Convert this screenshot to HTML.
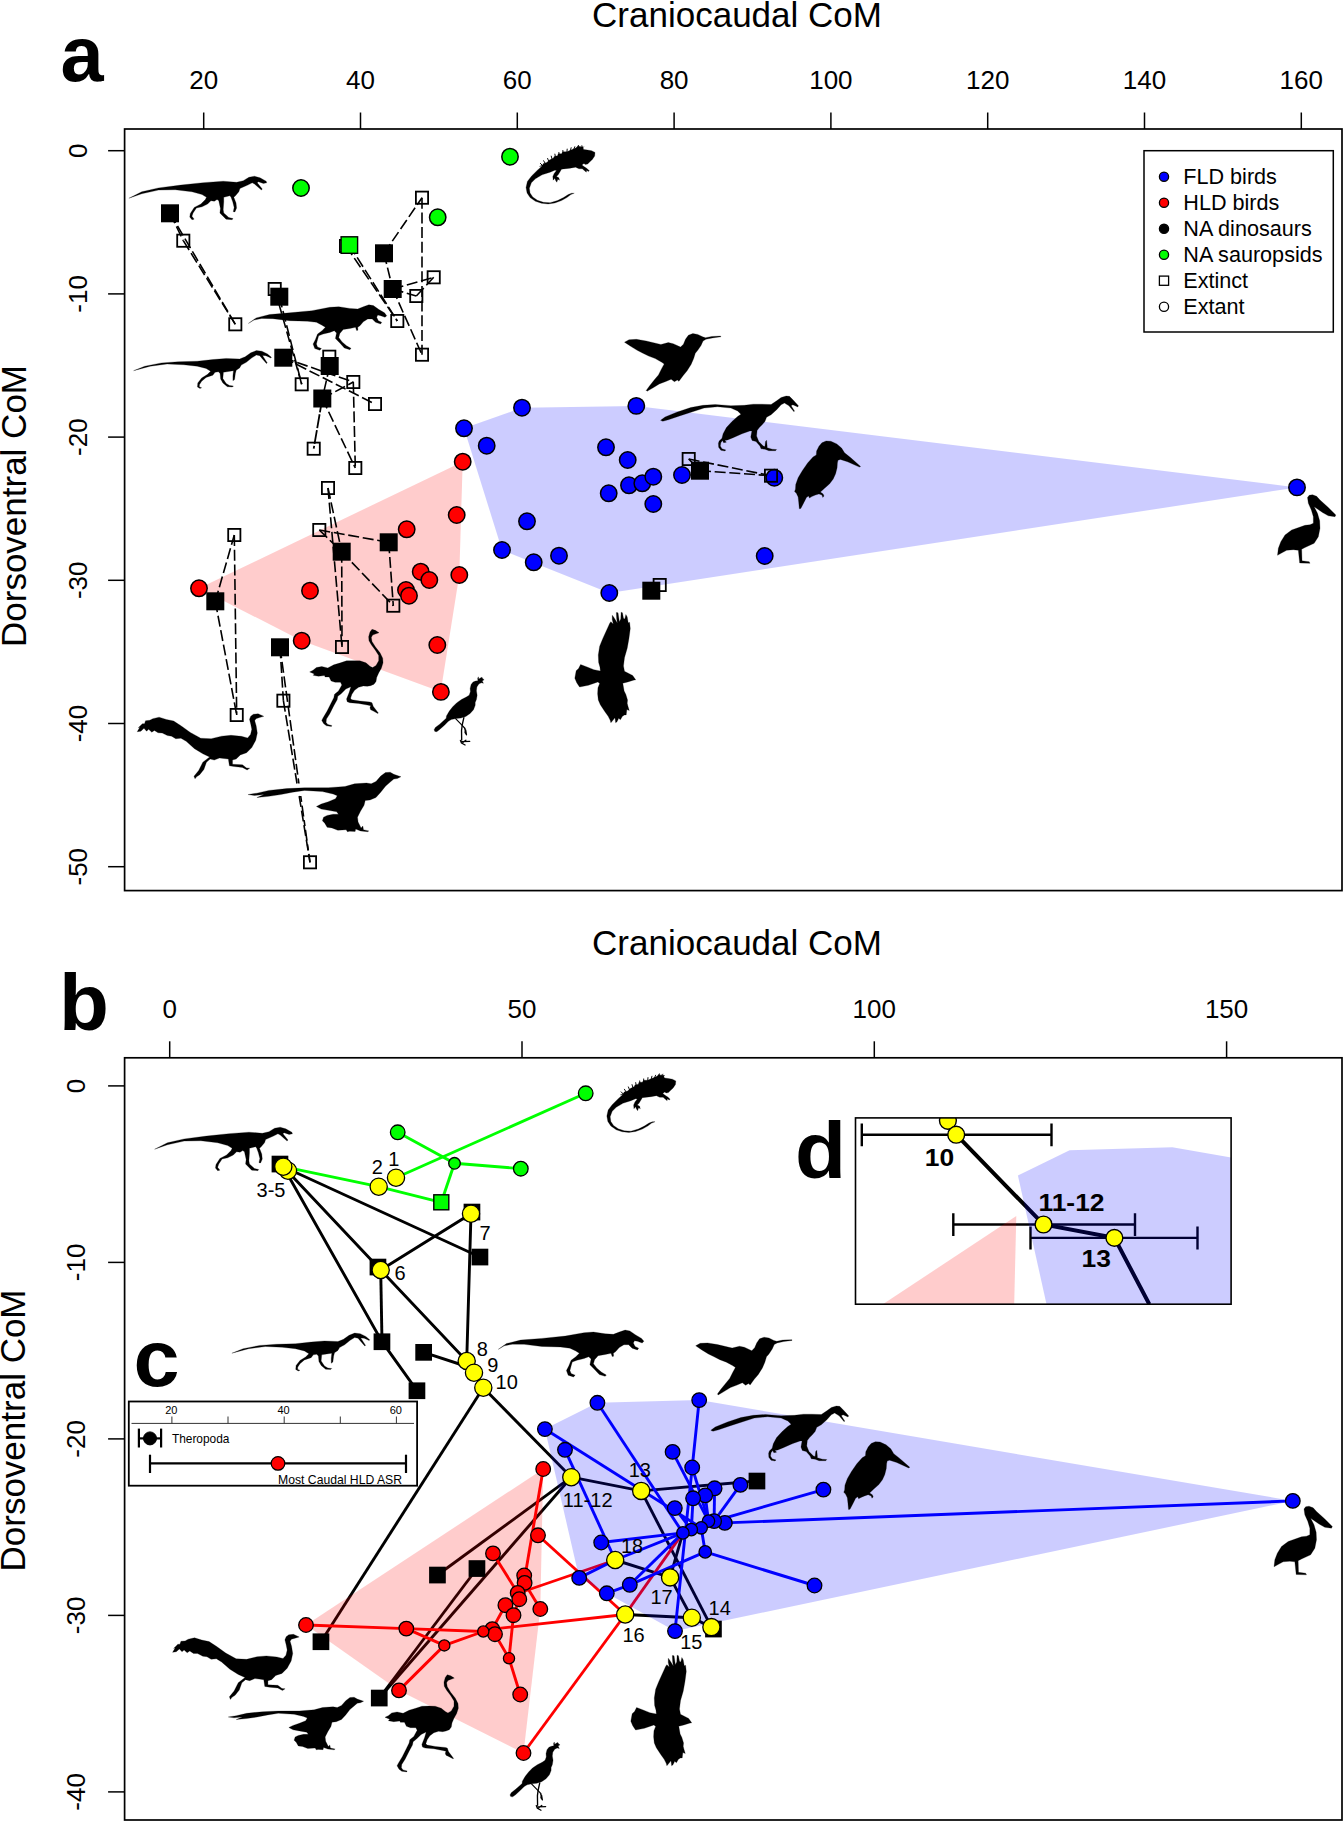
<!DOCTYPE html>
<html lang="en"><head><meta charset="utf-8"><title>Figure</title>
<style>html,body{margin:0;padding:0;background:#fff}svg{display:block}text{font-family:"Liberation Sans", Arial, sans-serif;fill:#000}</style></head><body>
<svg width="1344" height="1822" viewBox="0 0 1344 1822">
<rect width="1344" height="1822" fill="#fff"/>
<defs>
<g id="s_herrera">
<path d="M35,298 L150,240 L300,205 L500,180 L700,158 L880,145 L1000,155 L1060,140 L1110,110 L1160,100 L1210,115 L1265,145 L1270,160 L1240,165 L1195,150 L1185,160 L1230,215 L1222,225 L1160,170 L1140,160 L1100,180 L1030,210 L1020,240 L990,275 L975,290 L995,340 L1000,385 L985,420 L970,418 L978,380 L965,330 L950,290 L940,275 L885,290 L885,330 L880,400 L885,430 L930,470 L968,480 L960,490 L905,485 L850,430 L855,390 L840,320 L825,310 L800,325 L770,320 L740,350 L690,375 L640,385 L610,430 L600,460 L620,485 L600,490 L580,465 L585,435 L620,380 L680,350 L720,310 L730,290 L690,265 L600,240 L450,222 L300,225 L150,258 Z" fill="#000" stroke="#000" stroke-width="2.2" stroke-linejoin="round"/>
</g>
<g id="s_trex">
<path d="M30,255 L100,205 L220,175 L400,160 L600,140 L760,110 L840,105 L940,120 L1010,125 L1060,105 L1110,88 L1150,95 L1200,130 L1250,160 L1270,185 L1255,200 L1215,185 L1190,180 L1180,200 L1195,230 L1225,245 L1215,260 L1170,245 L1140,215 L1100,215 L1060,240 L1030,275 L1010,290 L1012,315 L1000,318 L990,290 L940,300 L880,310 L850,345 L840,380 L870,420 L910,455 L950,478 L940,490 L890,475 L850,430 L810,390 L820,340 L800,320 L760,335 L700,350 L660,365 L650,400 L640,440 L650,465 L685,480 L670,495 L625,480 L610,440 L630,400 L650,350 L690,320 L720,290 L690,270 L640,245 L560,235 L400,230 L250,212 L150,210 L80,225 Z" fill="#000" stroke="#000" stroke-width="2.2" stroke-linejoin="round"/>
</g>
<g id="s_coelo">
<path d="M50,275 L150,235 L300,205 L450,195 L620,190 L760,175 L880,165 L1000,170 L1050,150 L1100,115 L1150,95 L1200,100 L1250,125 L1285,155 L1280,162 L1235,140 L1205,138 L1225,170 L1248,205 L1240,210 L1205,170 L1180,140 L1150,135 L1110,160 L1060,200 L1015,225 L1000,250 L970,270 L962,300 L955,355 L940,365 L940,320 L945,275 L900,282 L855,290 L850,345 L880,390 L910,408 L945,412 L935,422 L890,418 L850,385 L830,350 L825,300 L810,285 L780,290 L760,315 L700,335 L660,370 L640,400 L640,420 L660,428 L645,435 L622,420 L625,385 L660,340 L710,310 L740,280 L700,255 L620,235 L500,222 L350,215 L200,235 Z" fill="#000" stroke="#000" stroke-width="2.2" stroke-linejoin="round"/>
</g>
<g id="s_iguana">
<path d="M1120,185 L1115,240 L1080,290 L1040,330 L1010,360 L975,365 L955,350 L925,375 L960,400 L1000,425 L1035,460 L1020,470 L995,450 L990,480 L960,455 L930,430 L880,430 L830,405 L750,420 L620,435 L600,470 L570,520 L545,545 L580,565 L590,600 L565,585 L550,630 L530,600 L520,570 L495,600 L490,545 L510,500 L545,455 L520,450 L450,480 L330,520 L230,580 L170,640 L140,720 L150,790 L190,850 L260,900 L350,930 L450,935 L560,905 L650,860 L720,815 L770,795 L810,795 L760,815 L700,860 L620,905 L520,940 L420,955 L320,945 L230,915 L150,860 L105,790 L90,710 L110,620 L170,540 L260,450 L330,390 L290,395 L340,370 L350,350 L400,335 L440,300 L500,270 L510,245 L560,235 L570,205 L620,205 L640,175 L700,175 L760,150 L830,120 L880,85 L900,110 L935,95 L950,140 L1010,150 L1070,160 Z" fill="#000" stroke="#000" stroke-width="3.7" stroke-linejoin="round"/>
<path d="M340,385 L300,345 M380,355 L350,305 M430,320 L410,270 M480,290 L465,235 M530,262 L520,205 M585,238 L580,180 M640,210 L640,150 M700,185 L705,130 M750,165 L765,110 M800,145 L820,95 M850,125 L875,75 M895,115 L925,80 M930,120 L950,100" fill="none" stroke="#000" stroke-width="14" stroke-linecap="butt"/>
</g>
<g id="s_hummer">
<path d="M55,210 L110,180 L200,175 L320,195 L500,238 L590,215 L650,228 L740,270 L775,235 L800,175 L835,125 L890,105 L950,115 L1010,145 L1045,155 L1120,140 L1230,135 L1232,145 L1130,158 L1050,175 L1015,195 L990,250 L950,310 L920,345 L900,410 L870,480 L820,560 L770,620 L720,688 L700,672 L665,692 L625,662 L560,690 L480,720 L400,770 L330,810 L320,800 L360,745 L420,670 L470,610 L510,530 L540,475 L510,455 L430,410 L350,380 L280,345 L210,310 L130,260 Z" fill="#000" stroke="#000" stroke-width="3.1" stroke-linejoin="round"/>
</g>
<g id="s_deino">
<path d="M50,290 L90,260 L200,215 L320,175 L430,155 L540,148 L680,158 L800,155 L880,145 L960,145 L1040,148 L1090,115 L1130,85 L1175,72 L1205,75 L1240,110 L1285,160 L1280,170 L1235,150 L1220,160 L1250,205 L1245,212 L1200,160 L1160,135 L1130,150 L1090,195 L1040,240 L1000,262 L985,300 L960,330 L935,355 L915,380 L910,430 L930,480 L970,520 L985,525 L990,480 L1000,468 L1005,520 L1005,535 L1050,548 L1090,552 L1080,562 L1020,562 L985,548 L950,545 L940,520 L905,480 L870,470 L858,440 L868,385 L850,385 L780,410 L700,445 L650,465 L625,470 L640,485 L615,490 L605,470 L590,490 L585,520 L600,545 L635,555 L625,565 L590,558 L570,530 L568,495 L575,475 L600,450 L610,410 L640,355 L690,300 L740,255 L770,235 L740,205 L680,180 L560,168 L440,180 L330,215 L220,250 L120,285 L70,298 Z" fill="#000" stroke="#000" stroke-width="2.2" stroke-linejoin="round"/>
</g>
<g id="s_kingfisher">
<path d="M640,150 L720,155 L820,200 L900,270 L950,350 L1050,430 L1220,580 L1200,590 L1000,500 L880,460 L840,475 L830,520 L825,600 L800,700 L760,790 L700,870 L620,940 L545,1010 L590,1040 L605,1075 L585,1100 L570,1060 L520,1040 L460,1060 L400,1085 L360,1110 L345,1075 L310,1100 L270,1180 L215,1285 L190,1290 L180,1180 L170,1090 L140,1030 L110,1000 L125,960 L130,880 L170,770 L240,650 L330,520 L420,420 L475,385 L480,320 L520,240 L570,180 Z" fill="#000" stroke="#000" stroke-width="4.2" stroke-linejoin="round"/>
</g>
<g id="s_pelican">
<path d="M1125,405 L1135,392 L1155,388 L1180,398 L1200,420 L1250,465 L1295,510 L1290,520 L1250,515 L1215,495 L1165,460 L1185,500 L1198,545 L1200,590 L1190,640 L1165,680 L1110,705 L1090,715 L1092,785 L1135,790 L1140,800 L1078,798 L1070,722 L1040,718 L1000,722 L975,735 L945,752 L950,710 L965,670 L990,630 L1030,600 L1110,572 L1140,568 L1160,560 L1160,520 L1148,480 L1130,440 Z" fill="#000" stroke="#000" stroke-width="1.5" stroke-linejoin="round"/>
</g>
<g id="s_raptor">
<path d="M995,1085 L950,1020 L830,960 L815,880 L830,760 L870,620 L895,480 L915,330 L905,240 L885,245 L870,160 L850,125 L835,190 L815,180 L800,100 L780,90 L775,190 L755,230 L735,100 L710,95 L715,190 L725,250 L670,160 L650,135 L650,200 L665,265 L630,230 L615,250 L560,370 L510,480 L465,590 L445,720 L450,830 L470,900 L475,955 L380,935 L280,895 L185,860 L155,920 L120,950 L100,1060 L130,1130 L170,1190 L300,1165 L440,1115 L465,1140 L440,1200 L435,1290 L445,1380 L475,1450 L540,1550 L590,1620 L620,1680 L630,1715 L660,1680 L690,1640 L700,1715 L720,1700 L745,1650 L770,1670 L800,1620 L830,1600 L855,1600 L865,1520 L900,1535 L880,1470 L870,1430 L875,1380 L850,1300 L825,1250 L805,1135 L880,1115 L960,1090 Z" fill="#000" stroke="#000" stroke-width="3.7" stroke-linejoin="round"/>
</g>
<g id="s_ostrich">
<path d="M1135,160 L1080,180 L1040,195 L1020,230 L1030,290 L1080,370 L1150,460 L1190,540 L1195,610 L1170,690 L1130,760 L1100,830 L1090,890 L1060,930 L1010,950 L960,960 L900,955 L830,975 L770,1020 L730,1080 L710,1140 L730,1160 L850,1180 L1000,1195 L1030,1205 L1050,1260 L1125,1360 L1115,1365 L1050,1330 L1010,1310 L1000,1280 L1010,1250 L960,1240 L830,1215 L700,1205 L660,1190 L650,1150 L690,1050 L715,965 L640,1000 L570,1070 L520,1110 L510,1160 L460,1250 L400,1370 L350,1450 L345,1500 L370,1530 L430,1545 L425,1560 L350,1550 L310,1520 L280,1470 L300,1430 L360,1330 L420,1210 L460,1130 L470,1080 L530,1030 L580,940 L560,900 L480,900 L420,880 L390,820 L330,820 L320,800 L230,810 L150,795 L170,775 L100,745 L150,720 L200,680 L280,665 L370,685 L460,640 L560,610 L650,580 L760,578 L850,580 L940,610 L1000,660 L1040,680 L1090,650 L1130,580 L1130,500 L1080,420 L1020,340 L985,280 L980,220 L1000,150 L1030,110 L1080,125 Z" fill="#000" stroke="#000" stroke-width="3.7" stroke-linejoin="round"/>
</g>
<g id="s_guan">
<path d="M1000,140 L1010,185 L1050,160 L1075,150 L1095,185 L1120,200 L1080,225 L1105,275 L1060,265 L1010,290 L970,350 L960,430 L975,520 L960,610 L935,670 L935,730 L900,820 L830,900 L740,960 L640,995 L540,1005 L440,1025 L380,1060 L300,1140 L200,1230 L140,1275 L100,1270 L85,1235 L110,1190 L200,1120 L290,1040 L335,1000 L340,950 L400,850 L470,760 L550,680 L650,610 L750,560 L810,520 L835,450 L830,380 L850,300 L890,250 L940,230 L990,220 L985,170 Z" fill="#000" stroke="#000" stroke-width="5.2" stroke-linejoin="round"/>
<path d="M700,985 L668,1130 L652,1250 L655,1450" fill="none" stroke="#000" stroke-width="28" stroke-linecap="round"/>
<path d="M530,1005 L650,1130 L725,1210" fill="none" stroke="#000" stroke-width="24" stroke-linecap="round"/>
<path d="M700,1190 L750,1235 L768,1340 L752,1358 L712,1300 L715,1250 Z" fill="#000"/>
<path d="M628,1455 L650,1510 L725,1552 M660,1482 L822,1475 M680,1500 L742,1452" fill="none" stroke="#000" stroke-width="26" stroke-linecap="round" stroke-linejoin="round"/>
</g>
<g id="s_caudi">
<path d="M1265,80 L1225,92 L1190,102 L1178,122 L1192,170 L1203,240 L1188,310 L1150,380 L1100,430 L1040,450 L1000,490 L965,500 L965,540 L1060,545 L1100,575 L1130,578 L1105,595 L1060,570 L980,562 L935,555 L925,490 L880,485 L840,480 L790,500 L750,490 L715,520 L690,590 L650,640 L620,660 L605,680 L595,655 L640,600 L680,520 L745,470 L680,440 L600,390 L520,320 L470,290 L420,295 L380,270 L340,265 L290,240 L250,238 L215,215 L190,232 L160,205 L140,222 L115,195 L85,222 L50,228 L75,185 L60,190 L100,150 L120,150 L130,122 L170,118 L200,102 L260,88 L330,110 L400,125 L470,170 L560,235 L660,290 L760,295 L860,270 L950,262 L1050,272 L1110,287 L1138,255 L1150,205 L1140,155 L1128,108 L1140,78 L1165,60 L1210,55 Z" fill="#000" stroke="#000" stroke-width="2.4" stroke-linejoin="round"/>
</g>
<g id="s_micro">
<path d="M1310,90 L1280,105 L1250,110 L1220,135 L1180,170 L1140,220 L1100,265 L1050,285 L1010,290 L1000,330 L970,380 L945,430 L950,470 L975,520 L990,505 L995,535 L1040,545 L1030,552 L970,545 L930,530 L925,550 L880,548 L860,552 L850,535 L780,540 L730,520 L690,515 L670,480 L650,460 L660,430 L690,415 L740,405 L785,405 L770,385 L700,372 L640,362 L600,340 L640,320 L700,300 L760,275 L775,250 L740,235 L650,215 L500,205 L400,220 L300,240 L200,255 L100,265 L160,240 L80,248 L25,240 L100,228 L200,205 L350,190 L500,183 L700,182 L840,172 L920,150 L1020,143 L1060,150 L1100,130 L1140,85 L1180,55 L1220,52 L1250,70 Z" fill="#000" stroke="#000" stroke-width="2.1" stroke-linejoin="round"/>
</g>
</defs>
<polygon points="464,428.3 522,407.7 636.3,405.9 1297,487.4 609.3,593 502,550" fill="rgba(0,0,255,0.2)"/>
<polygon points="199,588.3 462.7,461.7 459.3,575 440.7,691.7 301.7,640.7" fill="rgba(255,0,0,0.2)"/>
<path d="M170,213.3 L183.3,240.7" fill="none" stroke="#000" stroke-width="1.6" stroke-linecap="butt" stroke-dasharray="11 3.7"/>
<path d="M170,213.3 L235.3,324.3" fill="none" stroke="#000" stroke-width="1.6" stroke-linecap="butt" stroke-dasharray="11 3.7"/>
<path d="M183.3,240.7 L235.3,324.3" fill="none" stroke="#000" stroke-width="1.6" stroke-linecap="butt" stroke-dasharray="11 3.7"/>
<path d="M349.3,245 L397.3,321" fill="none" stroke="#000" stroke-width="1.6" stroke-linecap="butt" stroke-dasharray="11 3.7"/>
<path d="M346,246 L397.3,321" fill="none" stroke="#000" stroke-width="1.6" stroke-linecap="butt" stroke-dasharray="11 3.7"/>
<path d="M384,253.3 L422,197.7" fill="none" stroke="#000" stroke-width="1.6" stroke-linecap="butt" stroke-dasharray="11 3.7"/>
<path d="M422,197.7 L422,354.7" fill="none" stroke="#000" stroke-width="1.6" stroke-linecap="butt" stroke-dasharray="11 3.7"/>
<path d="M384,253.3 L392.7,289" fill="none" stroke="#000" stroke-width="1.6" stroke-linecap="butt" stroke-dasharray="11 3.7"/>
<path d="M392.7,289 L433.7,277.3" fill="none" stroke="#000" stroke-width="1.6" stroke-linecap="butt" stroke-dasharray="11 3.7"/>
<path d="M392.7,289 L416.3,296" fill="none" stroke="#000" stroke-width="1.6" stroke-linecap="butt" stroke-dasharray="11 3.7"/>
<path d="M416.3,296 L433.7,277.3" fill="none" stroke="#000" stroke-width="1.6" stroke-linecap="butt" stroke-dasharray="11 3.7"/>
<path d="M392.7,289 L422,354.7" fill="none" stroke="#000" stroke-width="1.6" stroke-linecap="butt" stroke-dasharray="11 3.7"/>
<path d="M279.3,296.7 L301.7,384.3" fill="none" stroke="#000" stroke-width="1.6" stroke-linecap="butt" stroke-dasharray="11 3.7"/>
<path d="M274.7,289 L301.7,384.3" fill="none" stroke="#000" stroke-width="1.6" stroke-linecap="butt" stroke-dasharray="11 3.7"/>
<path d="M283.3,357.7 L375,404" fill="none" stroke="#000" stroke-width="1.6" stroke-linecap="butt" stroke-dasharray="11 3.7"/>
<path d="M283.3,357.7 L353.3,382" fill="none" stroke="#000" stroke-width="1.6" stroke-linecap="butt" stroke-dasharray="11 3.7"/>
<path d="M329.7,366 L322.3,398.5" fill="none" stroke="#000" stroke-width="1.6" stroke-linecap="butt" stroke-dasharray="11 3.7"/>
<path d="M322.3,398.5 L353.3,382" fill="none" stroke="#000" stroke-width="1.6" stroke-linecap="butt" stroke-dasharray="11 3.7"/>
<path d="M322.3,398.5 L355.3,468" fill="none" stroke="#000" stroke-width="1.6" stroke-linecap="butt" stroke-dasharray="11 3.7"/>
<path d="M353.3,382 L355.3,468" fill="none" stroke="#000" stroke-width="1.6" stroke-linecap="butt" stroke-dasharray="11 3.7"/>
<path d="M328,488 L341.7,551.7" fill="none" stroke="#000" stroke-width="1.6" stroke-linecap="butt" stroke-dasharray="11 3.7"/>
<path d="M328,488 L342,647" fill="none" stroke="#000" stroke-width="1.6" stroke-linecap="butt" stroke-dasharray="11 3.7"/>
<path d="M319.3,530 L341.7,551.7" fill="none" stroke="#000" stroke-width="1.6" stroke-linecap="butt" stroke-dasharray="11 3.7"/>
<path d="M319.3,530 L388.7,542.3" fill="none" stroke="#000" stroke-width="1.6" stroke-linecap="butt" stroke-dasharray="11 3.7"/>
<path d="M341.7,551.7 L393.3,605.7" fill="none" stroke="#000" stroke-width="1.6" stroke-linecap="butt" stroke-dasharray="11 3.7"/>
<path d="M388.7,542.3 L393.3,605.7" fill="none" stroke="#000" stroke-width="1.6" stroke-linecap="butt" stroke-dasharray="11 3.7"/>
<path d="M341.7,551.7 L342,647" fill="none" stroke="#000" stroke-width="1.6" stroke-linecap="butt" stroke-dasharray="11 3.7"/>
<path d="M215.3,601.3 L234.3,535" fill="none" stroke="#000" stroke-width="1.6" stroke-linecap="butt" stroke-dasharray="11 3.7"/>
<path d="M234.3,535 L236.7,715" fill="none" stroke="#000" stroke-width="1.6" stroke-linecap="butt" stroke-dasharray="11 3.7"/>
<path d="M215.3,601.3 L236.7,715" fill="none" stroke="#000" stroke-width="1.6" stroke-linecap="butt" stroke-dasharray="11 3.7"/>
<path d="M700,470.7 L771,475.7" fill="none" stroke="#000" stroke-width="1.6" stroke-linecap="butt" stroke-dasharray="11 3.7"/>
<path d="M688.7,459 L771,475.7" fill="none" stroke="#000" stroke-width="1.6" stroke-linecap="butt" stroke-dasharray="11 3.7"/>
<path d="M688.7,459 L700,470.7" fill="none" stroke="#000" stroke-width="1.6" stroke-linecap="butt" stroke-dasharray="11 3.7"/>
<path d="M651.3,590.7 L659.7,585" fill="none" stroke="#000" stroke-width="1.6" stroke-linecap="butt" stroke-dasharray="11 3.7"/>
<path d="M322.3,398.5 L313.7,448.7" fill="none" stroke="#000" stroke-width="1.8" stroke-linecap="butt" stroke-dasharray="14 2"/>
<path d="M280,647.3 L283.4,700.7" fill="none" stroke="#000" stroke-width="1.6" stroke-linecap="butt" stroke-dasharray="11 3.7"/>
<path d="M283.4,700.7 L297,783.5" fill="none" stroke="#000" stroke-width="1.6" stroke-linecap="butt" stroke-dasharray="11 3.7"/>
<path d="M280,647.3 L298.9,783.5" fill="none" stroke="#000" stroke-width="1.6" stroke-linecap="butt" stroke-dasharray="11 3.7"/>
<path d="M299.2,796 L310,862.3" fill="none" stroke="#000" stroke-width="1.6" stroke-linecap="butt" stroke-dasharray="11 3.7"/>
<path d="M300.7,796 L310,862.3" fill="none" stroke="#000" stroke-width="1.6" stroke-linecap="butt" stroke-dasharray="6 3.7 11 3.7"/>
<use href="#s_herrera" transform="translate(125,165) scale(0.11161,0.11161)"/>
<use href="#s_trex" transform="translate(245,295) scale(0.11161,0.11161)"/>
<use href="#s_coelo" transform="translate(128,340) scale(0.11161,0.11161)"/>
<use href="#s_iguana" transform="translate(520,140) scale(0.06698,0.06698)"/>
<use href="#s_hummer" transform="translate(620,325) scale(0.08185,0.08185)"/>
<use href="#s_deino" transform="translate(655,388) scale(0.11161,0.11161)"/>
<use href="#s_kingfisher" transform="translate(788,432) scale(0.05952,0.05952)"/>
<use href="#s_pelican" transform="translate(1120,430) scale(0.16667,0.16667)"/>
<use href="#s_raptor" transform="translate(568,606) scale(0.06807,0.06807)"/>
<use href="#s_ostrich" transform="translate(303,622) scale(0.06698,0.06698)"/>
<use href="#s_guan" transform="translate(430,670) scale(0.04836,0.04836)"/>
<use href="#s_caudi" transform="translate(132,708) scale(0.10417,0.10417)"/>
<use href="#s_micro" transform="translate(245,766) scale(0.11905,0.11905)"/>
<rect x="177.2" y="234.6" width="12.2" height="12.2" fill="none" stroke="#000" stroke-width="1.8"/>
<rect x="229.2" y="318.2" width="12.2" height="12.2" fill="none" stroke="#000" stroke-width="1.8"/>
<rect x="415.9" y="191.6" width="12.2" height="12.2" fill="none" stroke="#000" stroke-width="1.8"/>
<rect x="427.6" y="271.2" width="12.2" height="12.2" fill="none" stroke="#000" stroke-width="1.8"/>
<rect x="410.2" y="289.9" width="12.2" height="12.2" fill="none" stroke="#000" stroke-width="1.8"/>
<rect x="391.2" y="314.9" width="12.2" height="12.2" fill="none" stroke="#000" stroke-width="1.8"/>
<rect x="415.9" y="348.6" width="12.2" height="12.2" fill="none" stroke="#000" stroke-width="1.8"/>
<rect x="268.6" y="282.9" width="12.2" height="12.2" fill="none" stroke="#000" stroke-width="1.8"/>
<rect x="323.2" y="350.6" width="12.2" height="12.2" fill="none" stroke="#000" stroke-width="1.8"/>
<rect x="295.6" y="378.2" width="12.2" height="12.2" fill="none" stroke="#000" stroke-width="1.8"/>
<rect x="347.2" y="375.9" width="12.2" height="12.2" fill="none" stroke="#000" stroke-width="1.8"/>
<rect x="368.9" y="397.9" width="12.2" height="12.2" fill="none" stroke="#000" stroke-width="1.8"/>
<rect x="307.6" y="442.6" width="12.2" height="12.2" fill="none" stroke="#000" stroke-width="1.8"/>
<rect x="349.2" y="461.9" width="12.2" height="12.2" fill="none" stroke="#000" stroke-width="1.8"/>
<rect x="321.9" y="481.9" width="12.2" height="12.2" fill="none" stroke="#000" stroke-width="1.8"/>
<rect x="313.2" y="523.9" width="12.2" height="12.2" fill="none" stroke="#000" stroke-width="1.8"/>
<rect x="228.2" y="528.9" width="12.2" height="12.2" fill="none" stroke="#000" stroke-width="1.8"/>
<rect x="387.2" y="599.6" width="12.2" height="12.2" fill="none" stroke="#000" stroke-width="1.8"/>
<rect x="335.9" y="640.9" width="12.2" height="12.2" fill="none" stroke="#000" stroke-width="1.8"/>
<rect x="277.3" y="694.6" width="12.2" height="12.2" fill="none" stroke="#000" stroke-width="1.8"/>
<rect x="230.6" y="708.9" width="12.2" height="12.2" fill="none" stroke="#000" stroke-width="1.8"/>
<rect x="303.9" y="856.2" width="12.2" height="12.2" fill="none" stroke="#000" stroke-width="1.8"/>
<rect x="682.6" y="452.9" width="12.2" height="12.2" fill="none" stroke="#000" stroke-width="1.8"/>
<rect x="653.6" y="578.9" width="12.2" height="12.2" fill="none" stroke="#000" stroke-width="1.8"/>
<rect x="339.9" y="239.9" width="12.2" height="12.2" fill="none" stroke="#000" stroke-width="1.8"/>
<rect x="161" y="204.3" width="18" height="18" fill="#000"/>
<rect x="375" y="244.3" width="18" height="18" fill="#000"/>
<rect x="383.7" y="280" width="18" height="18" fill="#000"/>
<rect x="270.3" y="287.7" width="18" height="18" fill="#000"/>
<rect x="274.3" y="348.7" width="18" height="18" fill="#000"/>
<rect x="320.7" y="357" width="18" height="18" fill="#000"/>
<rect x="313.3" y="389.5" width="18" height="18" fill="#000"/>
<rect x="379.7" y="533.3" width="18" height="18" fill="#000"/>
<rect x="332.7" y="542.7" width="18" height="18" fill="#000"/>
<rect x="206.3" y="592.3" width="18" height="18" fill="#000"/>
<rect x="271" y="638.3" width="18" height="18" fill="#000"/>
<rect x="691" y="461.7" width="18" height="18" fill="#000"/>
<rect x="642.3" y="581.7" width="18" height="18" fill="#000"/>
<rect x="341.1" y="236.8" width="16.5" height="16.5" fill="#00ff00" stroke="#000" stroke-width="1.4"/>
<circle cx="301" cy="188" r="8.2" fill="#00ff00" stroke="#000" stroke-width="1.5"/>
<circle cx="437.7" cy="217.3" r="8.2" fill="#00ff00" stroke="#000" stroke-width="1.5"/>
<circle cx="510" cy="156.7" r="8.2" fill="#00ff00" stroke="#000" stroke-width="1.5"/>
<circle cx="199" cy="588.3" r="8.2" fill="#ff0000" stroke="#000" stroke-width="1.5"/>
<circle cx="462.7" cy="461.7" r="8.2" fill="#ff0000" stroke="#000" stroke-width="1.5"/>
<circle cx="456.7" cy="515" r="8.2" fill="#ff0000" stroke="#000" stroke-width="1.5"/>
<circle cx="406.7" cy="529.3" r="8.2" fill="#ff0000" stroke="#000" stroke-width="1.5"/>
<circle cx="459.3" cy="575" r="8.2" fill="#ff0000" stroke="#000" stroke-width="1.5"/>
<circle cx="420.7" cy="571.7" r="8.2" fill="#ff0000" stroke="#000" stroke-width="1.5"/>
<circle cx="429.3" cy="580" r="8.2" fill="#ff0000" stroke="#000" stroke-width="1.5"/>
<circle cx="406" cy="590" r="8.2" fill="#ff0000" stroke="#000" stroke-width="1.5"/>
<circle cx="409" cy="595.7" r="8.2" fill="#ff0000" stroke="#000" stroke-width="1.5"/>
<circle cx="310" cy="590.7" r="8.2" fill="#ff0000" stroke="#000" stroke-width="1.5"/>
<circle cx="301.7" cy="640.7" r="8.2" fill="#ff0000" stroke="#000" stroke-width="1.5"/>
<circle cx="437.3" cy="645" r="8.2" fill="#ff0000" stroke="#000" stroke-width="1.5"/>
<circle cx="440.9" cy="691.9" r="8.2" fill="#ff0000" stroke="#000" stroke-width="1.5"/>
<circle cx="464" cy="428.3" r="8.2" fill="#0000ff" stroke="#000" stroke-width="1.5"/>
<circle cx="522" cy="407.7" r="8.2" fill="#0000ff" stroke="#000" stroke-width="1.5"/>
<circle cx="486.7" cy="445.7" r="8.2" fill="#0000ff" stroke="#000" stroke-width="1.5"/>
<circle cx="636.3" cy="405.9" r="8.2" fill="#0000ff" stroke="#000" stroke-width="1.5"/>
<circle cx="606" cy="447.3" r="8.2" fill="#0000ff" stroke="#000" stroke-width="1.5"/>
<circle cx="627.7" cy="460" r="8.2" fill="#0000ff" stroke="#000" stroke-width="1.5"/>
<circle cx="629" cy="485.3" r="8.2" fill="#0000ff" stroke="#000" stroke-width="1.5"/>
<circle cx="642.3" cy="483.3" r="8.2" fill="#0000ff" stroke="#000" stroke-width="1.5"/>
<circle cx="653.3" cy="476.7" r="8.2" fill="#0000ff" stroke="#000" stroke-width="1.5"/>
<circle cx="608.7" cy="493.3" r="8.2" fill="#0000ff" stroke="#000" stroke-width="1.5"/>
<circle cx="653.3" cy="504" r="8.2" fill="#0000ff" stroke="#000" stroke-width="1.5"/>
<circle cx="682" cy="475" r="8.2" fill="#0000ff" stroke="#000" stroke-width="1.5"/>
<circle cx="774.3" cy="477.7" r="8.2" fill="#0000ff" stroke="#000" stroke-width="1.5"/>
<circle cx="527" cy="521.3" r="8.2" fill="#0000ff" stroke="#000" stroke-width="1.5"/>
<circle cx="502" cy="550" r="8.2" fill="#0000ff" stroke="#000" stroke-width="1.5"/>
<circle cx="533.7" cy="562.3" r="8.2" fill="#0000ff" stroke="#000" stroke-width="1.5"/>
<circle cx="559" cy="555.7" r="8.2" fill="#0000ff" stroke="#000" stroke-width="1.5"/>
<circle cx="609.3" cy="593" r="8.2" fill="#0000ff" stroke="#000" stroke-width="1.5"/>
<circle cx="764.7" cy="556" r="8.2" fill="#0000ff" stroke="#000" stroke-width="1.5"/>
<circle cx="1297" cy="487.4" r="8.2" fill="#0000ff" stroke="#000" stroke-width="1.5"/>
<rect x="764.9" y="469.6" width="12.2" height="12.2" fill="none" stroke="#000" stroke-width="1.8"/>
<rect x="1144" y="150.7" width="189.3" height="181.3" fill="#fff" stroke="#000" stroke-width="1.5"/>
<circle cx="1164" cy="176.7" r="4.6" fill="#0000ff" stroke="#000" stroke-width="1.3"/>
<text x="1183.3" y="184.2" font-size="21.6" text-anchor="start" font-weight="normal">FLD birds</text>
<circle cx="1164" cy="202.7" r="4.6" fill="#ff0000" stroke="#000" stroke-width="1.3"/>
<text x="1183.3" y="210.2" font-size="21.6" text-anchor="start" font-weight="normal">HLD birds</text>
<circle cx="1164" cy="228.7" r="4.6" fill="#000" stroke="#000" stroke-width="1.3"/>
<text x="1183.3" y="236.2" font-size="21.6" text-anchor="start" font-weight="normal">NA dinosaurs</text>
<circle cx="1164" cy="254.7" r="4.6" fill="#00ff00" stroke="#000" stroke-width="1.3"/>
<text x="1183.3" y="262.2" font-size="21.6" text-anchor="start" font-weight="normal">NA sauropsids</text>
<rect x="1159.4" y="276.1" width="9.2" height="9.2" fill="none" stroke="#000" stroke-width="1.3"/>
<text x="1183.3" y="288.2" font-size="21.6" text-anchor="start" font-weight="normal">Extinct</text>
<circle cx="1164" cy="306.7" r="4.6" fill="none" stroke="#000" stroke-width="1.3"/>
<text x="1183.3" y="314.2" font-size="21.6" text-anchor="start" font-weight="normal">Extant</text>
<rect x="124.6" y="129" width="1217.4" height="761.6" fill="none" stroke="#000" stroke-width="1.7"/>
<path d="M203.7,112.5 L203.7,129" fill="none" stroke="#000" stroke-width="1.5" stroke-linecap="butt"/>
<text x="203.7" y="89" font-size="26" text-anchor="middle" font-weight="normal">20</text>
<path d="M360.5,112.5 L360.5,129" fill="none" stroke="#000" stroke-width="1.5" stroke-linecap="butt"/>
<text x="360.5" y="89" font-size="26" text-anchor="middle" font-weight="normal">40</text>
<path d="M517.3,112.5 L517.3,129" fill="none" stroke="#000" stroke-width="1.5" stroke-linecap="butt"/>
<text x="517.3" y="89" font-size="26" text-anchor="middle" font-weight="normal">60</text>
<path d="M674.1,112.5 L674.1,129" fill="none" stroke="#000" stroke-width="1.5" stroke-linecap="butt"/>
<text x="674.1" y="89" font-size="26" text-anchor="middle" font-weight="normal">80</text>
<path d="M830.9,112.5 L830.9,129" fill="none" stroke="#000" stroke-width="1.5" stroke-linecap="butt"/>
<text x="830.9" y="89" font-size="26" text-anchor="middle" font-weight="normal">100</text>
<path d="M987.7,112.5 L987.7,129" fill="none" stroke="#000" stroke-width="1.5" stroke-linecap="butt"/>
<text x="987.7" y="89" font-size="26" text-anchor="middle" font-weight="normal">120</text>
<path d="M1144.5,112.5 L1144.5,129" fill="none" stroke="#000" stroke-width="1.5" stroke-linecap="butt"/>
<text x="1144.5" y="89" font-size="26" text-anchor="middle" font-weight="normal">140</text>
<path d="M1301.3,112.5 L1301.3,129" fill="none" stroke="#000" stroke-width="1.5" stroke-linecap="butt"/>
<text x="1301.3" y="89" font-size="26" text-anchor="middle" font-weight="normal">160</text>
<path d="M108.1,150.7 L124.6,150.7" fill="none" stroke="#000" stroke-width="1.5" stroke-linecap="butt"/>
<text x="87" y="150.7" font-size="26" text-anchor="middle" font-weight="normal" transform="rotate(-90 87 150.7)">0</text>
<path d="M108.1,293.9 L124.6,293.9" fill="none" stroke="#000" stroke-width="1.5" stroke-linecap="butt"/>
<text x="87" y="293.9" font-size="26" text-anchor="middle" font-weight="normal" transform="rotate(-90 87 293.9)">-10</text>
<path d="M108.1,437.1 L124.6,437.1" fill="none" stroke="#000" stroke-width="1.5" stroke-linecap="butt"/>
<text x="87" y="437.1" font-size="26" text-anchor="middle" font-weight="normal" transform="rotate(-90 87 437.1)">-20</text>
<path d="M108.1,580.3 L124.6,580.3" fill="none" stroke="#000" stroke-width="1.5" stroke-linecap="butt"/>
<text x="87" y="580.3" font-size="26" text-anchor="middle" font-weight="normal" transform="rotate(-90 87 580.3)">-30</text>
<path d="M108.1,723.5 L124.6,723.5" fill="none" stroke="#000" stroke-width="1.5" stroke-linecap="butt"/>
<text x="87" y="723.5" font-size="26" text-anchor="middle" font-weight="normal" transform="rotate(-90 87 723.5)">-40</text>
<path d="M108.1,866.7 L124.6,866.7" fill="none" stroke="#000" stroke-width="1.5" stroke-linecap="butt"/>
<text x="87" y="866.7" font-size="26" text-anchor="middle" font-weight="normal" transform="rotate(-90 87 866.7)">-50</text>
<text x="737" y="26.8" font-size="35" text-anchor="middle" font-weight="normal">Craniocaudal CoM</text>
<text x="26" y="506" font-size="35" text-anchor="middle" font-weight="normal" transform="rotate(-90 26 506)">Dorsoventral CoM</text>
<text x="60.5" y="81" font-size="77.5" text-anchor="start" font-weight="bold">a</text>
<path d="M283.3,1166.7 L378.7,1186.7 L441.3,1202.3" fill="none" stroke="#00ff00" stroke-width="2.9" stroke-linecap="butt"/>
<path d="M396,1177.7 L585.7,1093.3" fill="none" stroke="#00ff00" stroke-width="2.9" stroke-linecap="butt"/>
<path d="M397.7,1132.3 L454.5,1163.3 L520.8,1168.7" fill="none" stroke="#00ff00" stroke-width="2.9" stroke-linecap="butt"/>
<path d="M454.5,1163.3 L441.3,1202.3" fill="none" stroke="#00ff00" stroke-width="2.9" stroke-linecap="butt"/>
<path d="M283.3,1166.7 L480,1257" fill="none" stroke="#000" stroke-width="2.9" stroke-linecap="butt"/>
<path d="M283.3,1166.7 L380.7,1270 L466.7,1361" fill="none" stroke="#000" stroke-width="2.9" stroke-linecap="butt"/>
<path d="M283.3,1166.7 L382,1341.7 L417,1390.7" fill="none" stroke="#000" stroke-width="2.9" stroke-linecap="butt"/>
<path d="M380.7,1270 L382,1341.7" fill="none" stroke="#000" stroke-width="2.9" stroke-linecap="butt"/>
<path d="M380.7,1270 L471,1213.7 L466.7,1361" fill="none" stroke="#000" stroke-width="2.9" stroke-linecap="butt"/>
<path d="M423.7,1352.3 L470,1367.5" fill="none" stroke="#000" stroke-width="2.9" stroke-linecap="butt"/>
<path d="M466.7,1361 L474,1372.7 L483.3,1387.7" fill="none" stroke="#000" stroke-width="2.9" stroke-linecap="butt"/>
<path d="M483.3,1387.7 L321,1641.7" fill="none" stroke="#000" stroke-width="2.9" stroke-linecap="butt"/>
<path d="M483.3,1387.7 L571.3,1477.2" fill="none" stroke="#000" stroke-width="2.9" stroke-linecap="butt"/>
<path d="M571.3,1477.2 L437.5,1575" fill="none" stroke="#000" stroke-width="2.9" stroke-linecap="butt"/>
<path d="M571.3,1477.2 L379.3,1698" fill="none" stroke="#000" stroke-width="2.9" stroke-linecap="butt"/>
<path d="M477,1568.5 L379.3,1698" fill="none" stroke="#000" stroke-width="2.9" stroke-linecap="butt"/>
<path d="M571.3,1477.2 L641.2,1490.9 L757,1481" fill="none" stroke="#000" stroke-width="2.9" stroke-linecap="butt"/>
<path d="M641.2,1490.9 L711.4,1627.1" fill="none" stroke="#000" stroke-width="2.9" stroke-linecap="butt"/>
<path d="M615.2,1560 L670.1,1577.4 L691.8,1617.7" fill="none" stroke="#000" stroke-width="2.9" stroke-linecap="butt"/>
<path d="M682.9,1532.9 L670.1,1577.4" fill="none" stroke="#000" stroke-width="2.9" stroke-linecap="butt"/>
<path d="M625.2,1614.5 L691.8,1617.7 L711.4,1627.1" fill="none" stroke="#000" stroke-width="2.9" stroke-linecap="butt"/>
<path d="M306,1625 L406.3,1628.6 L483.3,1631.5" fill="none" stroke="#ff0000" stroke-width="2.9" stroke-linecap="butt"/>
<path d="M406.3,1628.6 L444.3,1645.4 L483.3,1631.5" fill="none" stroke="#ff0000" stroke-width="2.9" stroke-linecap="butt"/>
<path d="M399,1690.4 L444.3,1645.4" fill="none" stroke="#ff0000" stroke-width="2.9" stroke-linecap="butt"/>
<path d="M543.2,1469 L524.4,1580" fill="none" stroke="#ff0000" stroke-width="2.9" stroke-linecap="butt"/>
<path d="M538,1535.3 L625.2,1614.5" fill="none" stroke="#ff0000" stroke-width="2.9" stroke-linecap="butt"/>
<path d="M493,1553.4 L517.7,1592.9" fill="none" stroke="#ff0000" stroke-width="2.9" stroke-linecap="butt"/>
<path d="M522,1592 L615.2,1560" fill="none" stroke="#ff0000" stroke-width="2.9" stroke-linecap="butt"/>
<path d="M524.6,1582.9 L540.3,1609" fill="none" stroke="#ff0000" stroke-width="2.9" stroke-linecap="butt"/>
<path d="M492.3,1629.1 L505.4,1605.2 L513.5,1615.2 L519.3,1599.2 L517.7,1592.9 L524.6,1582.9" fill="none" stroke="#ff0000" stroke-width="2.9" stroke-linecap="butt"/>
<path d="M492.3,1629.1 L625.2,1614.5" fill="none" stroke="#ff0000" stroke-width="2.9" stroke-linecap="butt"/>
<path d="M495,1634.2 L509,1658.3 L520.2,1694.5" fill="none" stroke="#ff0000" stroke-width="2.9" stroke-linecap="butt"/>
<path d="M513.5,1615.2 L509,1658.3" fill="none" stroke="#ff0000" stroke-width="2.9" stroke-linecap="butt"/>
<path d="M523.5,1753 L625.2,1614.5" fill="none" stroke="#ff0000" stroke-width="2.9" stroke-linecap="butt"/>
<path d="M625.2,1614.5 L682.9,1532.9" fill="none" stroke="#ff0000" stroke-width="2.9" stroke-linecap="butt"/>
<path d="M597.4,1402.8 L682.9,1532.9" fill="none" stroke="#0000ff" stroke-width="2.9" stroke-linecap="butt"/>
<path d="M699.2,1400.1 L692.2,1467.5 L675,1631.1" fill="none" stroke="#0000ff" stroke-width="2.9" stroke-linecap="butt"/>
<path d="M692.2,1467.5 L708.5,1521.1" fill="none" stroke="#0000ff" stroke-width="2.9" stroke-linecap="butt"/>
<path d="M544.9,1429.1 L701.2,1527.8" fill="none" stroke="#0000ff" stroke-width="2.9" stroke-linecap="butt"/>
<path d="M565,1449.8 L615.2,1560" fill="none" stroke="#0000ff" stroke-width="2.9" stroke-linecap="butt"/>
<path d="M601.2,1542.5 L682.9,1532.9" fill="none" stroke="#0000ff" stroke-width="2.9" stroke-linecap="butt"/>
<path d="M672.6,1451.9 L708.5,1521.1" fill="none" stroke="#0000ff" stroke-width="2.9" stroke-linecap="butt"/>
<path d="M674.8,1508.1 L691.3,1529.6" fill="none" stroke="#0000ff" stroke-width="2.9" stroke-linecap="butt"/>
<path d="M693.1,1498.3 L691.3,1529.6" fill="none" stroke="#0000ff" stroke-width="2.9" stroke-linecap="butt"/>
<path d="M705.2,1495.4 L708.5,1521.1" fill="none" stroke="#0000ff" stroke-width="2.9" stroke-linecap="butt"/>
<path d="M714.6,1488.3 L714.1,1521.1" fill="none" stroke="#0000ff" stroke-width="2.9" stroke-linecap="butt"/>
<path d="M740.4,1484.9 L714.1,1521.1" fill="none" stroke="#0000ff" stroke-width="2.9" stroke-linecap="butt"/>
<path d="M823.4,1489.6 L714.1,1521.1" fill="none" stroke="#0000ff" stroke-width="2.9" stroke-linecap="butt"/>
<path d="M1292.8,1500.9 L724.8,1522.9" fill="none" stroke="#0000ff" stroke-width="2.9" stroke-linecap="butt"/>
<path d="M682.9,1532.9 L691.3,1529.6 L701.2,1527.8 L708.5,1521.1 L714.1,1521.1 L724.8,1522.9" fill="none" stroke="#0000ff" stroke-width="2.9" stroke-linecap="butt"/>
<path d="M705.2,1551.9 L814.5,1585.5" fill="none" stroke="#0000ff" stroke-width="2.9" stroke-linecap="butt"/>
<path d="M705.2,1551.9 L701.2,1527.8" fill="none" stroke="#0000ff" stroke-width="2.9" stroke-linecap="butt"/>
<path d="M705.2,1551.9 L629.8,1584.8 L606.8,1593.3" fill="none" stroke="#0000ff" stroke-width="2.9" stroke-linecap="butt"/>
<path d="M615.2,1560 L682.9,1532.9" fill="none" stroke="#0000ff" stroke-width="2.9" stroke-linecap="butt"/>
<path d="M579.2,1577.9 L615.2,1560" fill="none" stroke="#0000ff" stroke-width="2.9" stroke-linecap="butt"/>
<path d="M629.8,1584.8 L682.9,1532.9" fill="none" stroke="#0000ff" stroke-width="2.9" stroke-linecap="butt"/>
<polygon points="544.9,1429.1 597.4,1402.8 699.2,1400.1 1292.8,1500.9 675,1631.1 606.8,1593.3 579.2,1577.9" fill="rgba(0,0,255,0.2)"/>
<polygon points="306,1625 543.2,1469 540.3,1609 523.5,1753 399,1690.4" fill="rgba(255,0,0,0.2)"/>
<use href="#s_herrera" transform="translate(150.7,1116) scale(0.11161,0.11161)"/>
<use href="#s_coelo" transform="translate(226.3,1322.5) scale(0.11161,0.11161)"/>
<use href="#s_iguana" transform="translate(600.8,1068.5) scale(0.06698,0.06698)"/>
<use href="#s_trex" transform="translate(494.8,1320) scale(0.11741,0.11496)"/>
<use href="#s_hummer" transform="translate(691.2,1328.6) scale(0.08185,0.08185)"/>
<use href="#s_deino" transform="translate(705.2,1398) scale(0.11161,0.11161)"/>
<use href="#s_kingfisher" transform="translate(837.2,1432.8) scale(0.05952,0.05952)"/>
<use href="#s_pelican" transform="translate(1116.5,1441.5) scale(0.16667,0.16667)"/>
<use href="#s_raptor" transform="translate(624,1649) scale(0.06807,0.06807)"/>
<use href="#s_ostrich" transform="translate(378.3,1667.4) scale(0.06698,0.06698)"/>
<use href="#s_guan" transform="translate(505.9,1735.2) scale(0.04836,0.04836)"/>
<use href="#s_caudi" transform="translate(167.4,1628.6) scale(0.10417,0.10417)"/>
<use href="#s_micro" transform="translate(225.6,1691.7) scale(0.10536,0.10536)"/>
<rect x="271.6" y="1155.7" width="16.7" height="16.7" fill="#000"/>
<rect x="463.6" y="1203.7" width="16.7" height="16.7" fill="#000"/>
<rect x="471.6" y="1248.7" width="16.7" height="16.7" fill="#000"/>
<rect x="369.6" y="1258.7" width="16.7" height="16.7" fill="#000"/>
<rect x="373.6" y="1333.4" width="16.7" height="16.7" fill="#000"/>
<rect x="415.3" y="1344" width="16.7" height="16.7" fill="#000"/>
<rect x="408.6" y="1382.4" width="16.7" height="16.7" fill="#000"/>
<rect x="429.1" y="1566.7" width="16.7" height="16.7" fill="#000"/>
<rect x="468.6" y="1560.2" width="16.7" height="16.7" fill="#000"/>
<rect x="312.6" y="1633.4" width="16.7" height="16.7" fill="#000"/>
<rect x="370.9" y="1689.7" width="16.7" height="16.7" fill="#000"/>
<rect x="748.6" y="1472.7" width="16.7" height="16.7" fill="#000"/>
<rect x="705.1" y="1620.7" width="16.7" height="16.7" fill="#000"/>
<rect x="433.8" y="1194.8" width="15" height="15" fill="#00ff00" stroke="#000" stroke-width="1.4"/>
<circle cx="306" cy="1625" r="7.3" fill="#ff0000" stroke="#000" stroke-width="1.3"/>
<circle cx="543.2" cy="1469" r="7.3" fill="#ff0000" stroke="#000" stroke-width="1.3"/>
<circle cx="538" cy="1535.3" r="7.3" fill="#ff0000" stroke="#000" stroke-width="1.3"/>
<circle cx="493" cy="1553.4" r="7.3" fill="#ff0000" stroke="#000" stroke-width="1.3"/>
<circle cx="524.2" cy="1575.5" r="7.3" fill="#ff0000" stroke="#000" stroke-width="1.3"/>
<circle cx="524.6" cy="1582.9" r="7.3" fill="#ff0000" stroke="#000" stroke-width="1.3"/>
<circle cx="517.7" cy="1592.9" r="7.3" fill="#ff0000" stroke="#000" stroke-width="1.3"/>
<circle cx="519.3" cy="1599.2" r="7.3" fill="#ff0000" stroke="#000" stroke-width="1.3"/>
<circle cx="505.4" cy="1605.2" r="7.3" fill="#ff0000" stroke="#000" stroke-width="1.3"/>
<circle cx="513.5" cy="1615.2" r="7.3" fill="#ff0000" stroke="#000" stroke-width="1.3"/>
<circle cx="540.3" cy="1609" r="7.3" fill="#ff0000" stroke="#000" stroke-width="1.3"/>
<circle cx="406.3" cy="1628.6" r="7.3" fill="#ff0000" stroke="#000" stroke-width="1.3"/>
<circle cx="492.3" cy="1629.1" r="7.3" fill="#ff0000" stroke="#000" stroke-width="1.3"/>
<circle cx="495" cy="1634.2" r="7.3" fill="#ff0000" stroke="#000" stroke-width="1.3"/>
<circle cx="520.2" cy="1694.5" r="7.3" fill="#ff0000" stroke="#000" stroke-width="1.3"/>
<circle cx="399" cy="1690.4" r="7.3" fill="#ff0000" stroke="#000" stroke-width="1.3"/>
<circle cx="523.5" cy="1753" r="7.3" fill="#ff0000" stroke="#000" stroke-width="1.3"/>
<circle cx="483.3" cy="1631.5" r="5.6" fill="#ff0000" stroke="#000" stroke-width="1.3"/>
<circle cx="444.3" cy="1645.4" r="5.6" fill="#ff0000" stroke="#000" stroke-width="1.3"/>
<circle cx="509" cy="1658.3" r="5.6" fill="#ff0000" stroke="#000" stroke-width="1.3"/>
<circle cx="597.4" cy="1402.8" r="7.3" fill="#0000ff" stroke="#000" stroke-width="1.3"/>
<circle cx="699.2" cy="1400.1" r="7.3" fill="#0000ff" stroke="#000" stroke-width="1.3"/>
<circle cx="544.9" cy="1429.1" r="7.3" fill="#0000ff" stroke="#000" stroke-width="1.3"/>
<circle cx="565" cy="1449.8" r="7.3" fill="#0000ff" stroke="#000" stroke-width="1.3"/>
<circle cx="672.6" cy="1451.9" r="7.3" fill="#0000ff" stroke="#000" stroke-width="1.3"/>
<circle cx="692.2" cy="1467.5" r="7.3" fill="#0000ff" stroke="#000" stroke-width="1.3"/>
<circle cx="714.6" cy="1488.3" r="7.3" fill="#0000ff" stroke="#000" stroke-width="1.3"/>
<circle cx="705.2" cy="1495.4" r="7.3" fill="#0000ff" stroke="#000" stroke-width="1.3"/>
<circle cx="693.1" cy="1498.3" r="7.3" fill="#0000ff" stroke="#000" stroke-width="1.3"/>
<circle cx="674.8" cy="1508.1" r="7.3" fill="#0000ff" stroke="#000" stroke-width="1.3"/>
<circle cx="740.4" cy="1484.9" r="7.3" fill="#0000ff" stroke="#000" stroke-width="1.3"/>
<circle cx="823.4" cy="1489.6" r="7.3" fill="#0000ff" stroke="#000" stroke-width="1.3"/>
<circle cx="724.8" cy="1522.9" r="7.3" fill="#0000ff" stroke="#000" stroke-width="1.3"/>
<circle cx="714.1" cy="1521.1" r="7.3" fill="#0000ff" stroke="#000" stroke-width="1.3"/>
<circle cx="708.5" cy="1521.1" r="6.2" fill="#0000ff" stroke="#000" stroke-width="1.3"/>
<circle cx="701.2" cy="1527.8" r="6.2" fill="#0000ff" stroke="#000" stroke-width="1.3"/>
<circle cx="691.3" cy="1529.6" r="6.2" fill="#0000ff" stroke="#000" stroke-width="1.3"/>
<circle cx="682.9" cy="1532.9" r="6.2" fill="#0000ff" stroke="#000" stroke-width="1.3"/>
<circle cx="705.2" cy="1551.9" r="6.2" fill="#0000ff" stroke="#000" stroke-width="1.3"/>
<circle cx="601.2" cy="1542.5" r="7.3" fill="#0000ff" stroke="#000" stroke-width="1.3"/>
<circle cx="579.2" cy="1577.9" r="7.3" fill="#0000ff" stroke="#000" stroke-width="1.3"/>
<circle cx="629.8" cy="1584.8" r="7.3" fill="#0000ff" stroke="#000" stroke-width="1.3"/>
<circle cx="606.8" cy="1593.3" r="7.3" fill="#0000ff" stroke="#000" stroke-width="1.3"/>
<circle cx="814.5" cy="1585.5" r="7.3" fill="#0000ff" stroke="#000" stroke-width="1.3"/>
<circle cx="675" cy="1631.1" r="7.3" fill="#0000ff" stroke="#000" stroke-width="1.3"/>
<circle cx="1292.8" cy="1500.9" r="7.3" fill="#0000ff" stroke="#000" stroke-width="1.3"/>
<circle cx="397.7" cy="1132.3" r="7.3" fill="#00ff00" stroke="#000" stroke-width="1.3"/>
<circle cx="454.5" cy="1163.3" r="5.8" fill="#00ff00" stroke="#000" stroke-width="1.3"/>
<circle cx="520.8" cy="1168.7" r="7.3" fill="#00ff00" stroke="#000" stroke-width="1.3"/>
<circle cx="585.7" cy="1093.3" r="7.3" fill="#00ff00" stroke="#000" stroke-width="1.3"/>
<circle cx="288" cy="1170.7" r="8.6" fill="#ffff00" stroke="#000" stroke-width="1.3"/>
<circle cx="283.3" cy="1166.7" r="8.6" fill="#ffff00" stroke="#000" stroke-width="1.3"/>
<circle cx="378.7" cy="1186.7" r="8.6" fill="#ffff00" stroke="#000" stroke-width="1.3"/>
<circle cx="396" cy="1177.7" r="8.6" fill="#ffff00" stroke="#000" stroke-width="1.3"/>
<circle cx="471" cy="1213.7" r="8.6" fill="#ffff00" stroke="#000" stroke-width="1.3"/>
<circle cx="380.7" cy="1270" r="8.6" fill="#ffff00" stroke="#000" stroke-width="1.3"/>
<circle cx="466.7" cy="1361" r="8.6" fill="#ffff00" stroke="#000" stroke-width="1.3"/>
<circle cx="474" cy="1372.7" r="8.6" fill="#ffff00" stroke="#000" stroke-width="1.3"/>
<circle cx="483.3" cy="1387.7" r="8.6" fill="#ffff00" stroke="#000" stroke-width="1.3"/>
<circle cx="571.3" cy="1477.2" r="8.6" fill="#ffff00" stroke="#000" stroke-width="1.3"/>
<circle cx="641.2" cy="1490.9" r="8.6" fill="#ffff00" stroke="#000" stroke-width="1.3"/>
<circle cx="615.2" cy="1560" r="8.6" fill="#ffff00" stroke="#000" stroke-width="1.3"/>
<circle cx="670.1" cy="1577.4" r="8.6" fill="#ffff00" stroke="#000" stroke-width="1.3"/>
<circle cx="625.2" cy="1614.5" r="8.6" fill="#ffff00" stroke="#000" stroke-width="1.3"/>
<circle cx="691.8" cy="1617.7" r="8.6" fill="#ffff00" stroke="#000" stroke-width="1.3"/>
<circle cx="711.4" cy="1627.1" r="8.6" fill="#ffff00" stroke="#000" stroke-width="1.3"/>
<text x="393.7" y="1166" font-size="20" text-anchor="middle" font-weight="normal">1</text>
<text x="377.3" y="1174" font-size="20" text-anchor="middle" font-weight="normal">2</text>
<text x="271" y="1196.7" font-size="20" text-anchor="middle" font-weight="normal">3-5</text>
<text x="485" y="1240" font-size="20" text-anchor="middle" font-weight="normal">7</text>
<text x="400" y="1280" font-size="20" text-anchor="middle" font-weight="normal">6</text>
<text x="482.3" y="1356" font-size="20" text-anchor="middle" font-weight="normal">8</text>
<text x="492.7" y="1371.7" font-size="20" text-anchor="middle" font-weight="normal">9</text>
<text x="506.7" y="1389" font-size="20" text-anchor="middle" font-weight="normal">10</text>
<text x="587.7" y="1507.2" font-size="20" text-anchor="middle" font-weight="normal">11-12</text>
<text x="639.8" y="1477.2" font-size="20" text-anchor="middle" font-weight="normal">13</text>
<text x="632" y="1552.5" font-size="20" text-anchor="middle" font-weight="normal">18</text>
<text x="661.5" y="1604" font-size="20" text-anchor="middle" font-weight="normal">17</text>
<text x="633.5" y="1641.5" font-size="20" text-anchor="middle" font-weight="normal">16</text>
<text x="691.3" y="1649" font-size="20" text-anchor="middle" font-weight="normal">15</text>
<text x="719.7" y="1615" font-size="20" text-anchor="middle" font-weight="normal">14</text>
<rect x="128.8" y="1401.5" width="288.3" height="84.2" fill="#fff" stroke="#000" stroke-width="1.8"/>
<path d="M131.5,1423.4 L414,1423.4" fill="none" stroke="#333" stroke-width="1" stroke-linecap="butt"/>
<path d="M171.9,1416.5 L171.9,1423.4" fill="none" stroke="#333" stroke-width="1" stroke-linecap="butt"/>
<text x="171.3" y="1413.6" font-size="11" text-anchor="middle" font-weight="normal">20</text>
<path d="M228,1416.5 L228,1423.4" fill="none" stroke="#333" stroke-width="1" stroke-linecap="butt"/>
<path d="M284.2,1416.5 L284.2,1423.4" fill="none" stroke="#333" stroke-width="1" stroke-linecap="butt"/>
<text x="283.6" y="1413.6" font-size="11" text-anchor="middle" font-weight="normal">40</text>
<path d="M340.3,1416.5 L340.3,1423.4" fill="none" stroke="#333" stroke-width="1" stroke-linecap="butt"/>
<path d="M396.4,1416.5 L396.4,1423.4" fill="none" stroke="#333" stroke-width="1" stroke-linecap="butt"/>
<text x="395.8" y="1413.6" font-size="11" text-anchor="middle" font-weight="normal">60</text>
<path d="M138.9,1438.4 L161.1,1438.4" fill="none" stroke="#000" stroke-width="2.2" stroke-linecap="butt"/>
<path d="M138.9,1428.6 L138.9,1447.5" fill="none" stroke="#000" stroke-width="2.2" stroke-linecap="butt"/>
<path d="M161.1,1428.6 L161.1,1447.5" fill="none" stroke="#000" stroke-width="2.2" stroke-linecap="butt"/>
<circle cx="150" cy="1438.4" r="6.5" fill="#000" stroke="#000" stroke-width="1"/>
<text x="171.9" y="1442.8" font-size="11.9" text-anchor="start" font-weight="normal">Theropoda</text>
<path d="M150,1463.4 L406,1463.4" fill="none" stroke="#000" stroke-width="2.2" stroke-linecap="butt"/>
<path d="M150,1454.7 L150,1473" fill="none" stroke="#000" stroke-width="2.2" stroke-linecap="butt"/>
<path d="M406,1454.7 L406,1473" fill="none" stroke="#000" stroke-width="2.2" stroke-linecap="butt"/>
<circle cx="278" cy="1463.4" r="6.8" fill="#ff0000" stroke="#000" stroke-width="1.2"/>
<text x="402" y="1484.1" font-size="12.2" text-anchor="end" font-weight="normal">Most Caudal HLD ASR</text>
<text transform="translate(133.4,1385.7) scale(1.035,1)" font-size="80" font-weight="bold">c</text>
<clipPath id="cd"><rect x="855.5" y="1117.9" width="375.6" height="186.3"/></clipPath>
<rect x="855.5" y="1117.9" width="375.6" height="186.3" fill="#fff"/>
<g clip-path="url(#cd)">
<path d="M861.8,1134.7 L1051.5,1134.7" fill="none" stroke="#000" stroke-width="2.4" stroke-linecap="butt"/>
<path d="M861.8,1123.4 L861.8,1146.2" fill="none" stroke="#000" stroke-width="2.4" stroke-linecap="butt"/>
<path d="M1051.5,1123.4 L1051.5,1146.2" fill="none" stroke="#000" stroke-width="2.4" stroke-linecap="butt"/>
<path d="M953.3,1224.5 L1135,1224.5" fill="none" stroke="#000" stroke-width="2.4" stroke-linecap="butt"/>
<path d="M953.3,1213.2 L953.3,1236" fill="none" stroke="#000" stroke-width="2.4" stroke-linecap="butt"/>
<path d="M1135,1213.2 L1135,1236" fill="none" stroke="#000" stroke-width="2.4" stroke-linecap="butt"/>
<path d="M1030.5,1237.9 L1197.5,1237.9" fill="none" stroke="#000" stroke-width="2.4" stroke-linecap="butt"/>
<path d="M1030.5,1226.6 L1030.5,1249.4" fill="none" stroke="#000" stroke-width="2.4" stroke-linecap="butt"/>
<path d="M1197.5,1226.6 L1197.5,1249.4" fill="none" stroke="#000" stroke-width="2.4" stroke-linecap="butt"/>
<path d="M956.2,1134.7 L1043.5,1224.5 L1114.4,1237.9 L1149.3,1304.2" fill="none" stroke="#000" stroke-width="4" stroke-linecap="butt"/>
<polygon points="1017.9,1175.4 1069.6,1150.2 1172.4,1147.3 1231.1,1157.4 1231.1,1304.2 1046.5,1304.2" fill="rgba(0,0,255,0.2)"/>
<polygon points="882.8,1304.2 1016.3,1216.1 1014.2,1304.2" fill="rgba(255,0,0,0.2)"/>
<circle cx="947.9" cy="1120.8" r="8.4" fill="#ffff00" stroke="#000" stroke-width="1.4"/>
<circle cx="956.2" cy="1134.7" r="8.4" fill="#ffff00" stroke="#000" stroke-width="1.4"/>
<circle cx="1043.5" cy="1224.5" r="8.4" fill="#ffff00" stroke="#000" stroke-width="1.4"/>
<circle cx="1114.4" cy="1237.9" r="8.4" fill="#ffff00" stroke="#000" stroke-width="1.4"/>
<text transform="translate(939.5,1165.7) scale(1.13,1)" font-size="23.4" font-weight="bold" text-anchor="middle">10</text>
<text transform="translate(1071.5,1211) scale(1.13,1)" font-size="23.4" font-weight="bold" text-anchor="middle">11-12</text>
<text transform="translate(1096.2,1266.5) scale(1.13,1)" font-size="23.4" font-weight="bold" text-anchor="middle">13</text>
</g>
<rect x="855.5" y="1117.9" width="375.6" height="186.3" fill="none" stroke="#000" stroke-width="1.6"/>
<text transform="translate(795,1178.3) scale(1.06,1)" font-size="79" font-weight="bold">d</text>
<rect x="124.6" y="1057.8" width="1217.4" height="762.2" fill="none" stroke="#000" stroke-width="1.7"/>
<path d="M169.7,1041.3 L169.7,1057.8" fill="none" stroke="#000" stroke-width="1.5" stroke-linecap="butt"/>
<text x="169.7" y="1017.8" font-size="26" text-anchor="middle" font-weight="normal">0</text>
<path d="M522,1041.3 L522,1057.8" fill="none" stroke="#000" stroke-width="1.5" stroke-linecap="butt"/>
<text x="522" y="1017.8" font-size="26" text-anchor="middle" font-weight="normal">50</text>
<path d="M874.3,1041.3 L874.3,1057.8" fill="none" stroke="#000" stroke-width="1.5" stroke-linecap="butt"/>
<text x="874.3" y="1017.8" font-size="26" text-anchor="middle" font-weight="normal">100</text>
<path d="M1226.6,1041.3 L1226.6,1057.8" fill="none" stroke="#000" stroke-width="1.5" stroke-linecap="butt"/>
<text x="1226.6" y="1017.8" font-size="26" text-anchor="middle" font-weight="normal">150</text>
<path d="M108.1,1085.9 L124.6,1085.9" fill="none" stroke="#000" stroke-width="1.5" stroke-linecap="butt"/>
<text x="85" y="1085.9" font-size="26" text-anchor="middle" font-weight="normal" transform="rotate(-90 85 1085.9)">0</text>
<path d="M108.1,1262.4 L124.6,1262.4" fill="none" stroke="#000" stroke-width="1.5" stroke-linecap="butt"/>
<text x="85" y="1262.4" font-size="26" text-anchor="middle" font-weight="normal" transform="rotate(-90 85 1262.4)">-10</text>
<path d="M108.1,1438.9 L124.6,1438.9" fill="none" stroke="#000" stroke-width="1.5" stroke-linecap="butt"/>
<text x="85" y="1438.9" font-size="26" text-anchor="middle" font-weight="normal" transform="rotate(-90 85 1438.9)">-20</text>
<path d="M108.1,1615.4 L124.6,1615.4" fill="none" stroke="#000" stroke-width="1.5" stroke-linecap="butt"/>
<text x="85" y="1615.4" font-size="26" text-anchor="middle" font-weight="normal" transform="rotate(-90 85 1615.4)">-30</text>
<path d="M108.1,1791.9 L124.6,1791.9" fill="none" stroke="#000" stroke-width="1.5" stroke-linecap="butt"/>
<text x="85" y="1791.9" font-size="26" text-anchor="middle" font-weight="normal" transform="rotate(-90 85 1791.9)">-40</text>
<text x="737" y="954.8" font-size="35" text-anchor="middle" font-weight="normal">Craniocaudal CoM</text>
<text x="25.4" y="1430.5" font-size="35" text-anchor="middle" font-weight="normal" transform="rotate(-90 25.4 1430.5)">Dorsoventral CoM</text>
<text transform="translate(59,1030.3) scale(1.035,1)" font-size="79" font-weight="bold">b</text>
</svg></body></html>
